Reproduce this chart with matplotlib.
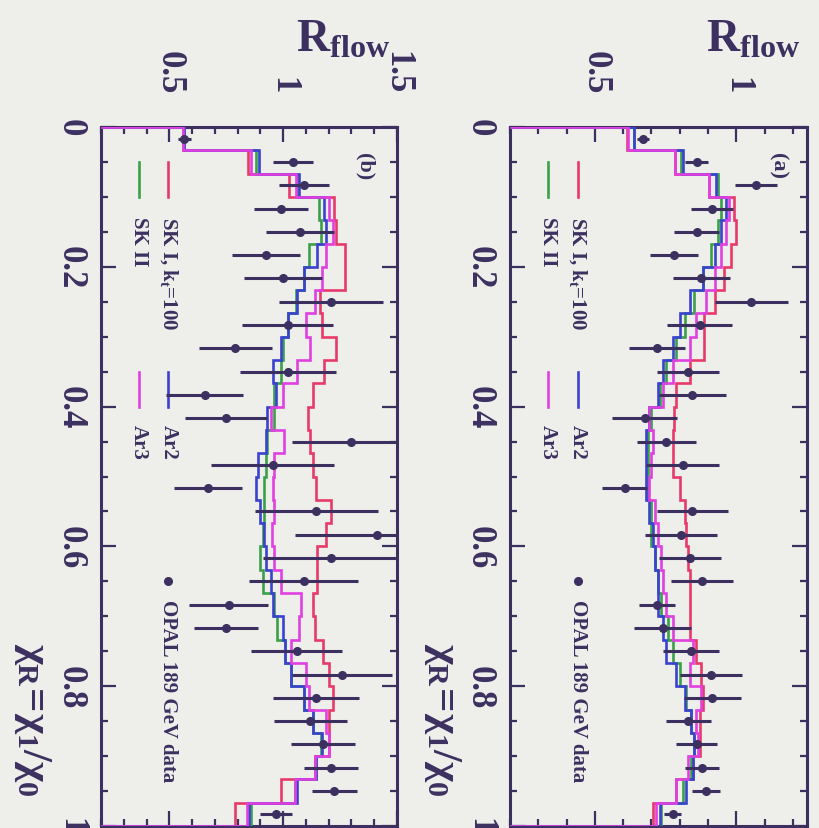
import numpy as np
import matplotlib
matplotlib.use("Agg")
import matplotlib.pyplot as plt
from matplotlib.transforms import blended_transform_factory

plt.rcParams['font.family'] = ['Liberation Serif', 'DejaVu Serif']
plt.rcParams['font.weight'] = 'bold'
plt.rcParams['mathtext.fontset'] = 'custom'
plt.rcParams['mathtext.rm'] = 'Liberation Serif:bold'
plt.rcParams['mathtext.it'] = 'Liberation Serif:bold'
plt.rcParams['mathtext.bf'] = 'Liberation Serif:bold'

# 30 bins in chi_R = chi_1/chi_0
edges = np.linspace(0, 1, 31)
centers = 0.5 * (edges[:-1] + edges[1:])

# ---- panel (a)
a_data = [0.67, 0.86, 1.07, 0.915, 0.86, 0.78, 0.877, 1.053, 0.87, 0.72,
          0.83, 0.845, 0.676, 0.753, 0.81, 0.606, 0.845, 0.805, 0.835, 0.88,
          0.72, 0.74, 0.84, 0.91, 0.915, 0.83, 0.86, 0.88, 0.893, 0.775]
a_err = [0.02, 0.04, 0.075, 0.075, 0.08, 0.085, 0.1, 0.13, 0.115, 0.1,
         0.11, 0.12, 0.115, 0.105, 0.13, 0.08, 0.127, 0.127, 0.11, 0.11,
         0.065, 0.1, 0.1, 0.11, 0.1, 0.08, 0.073, 0.06, 0.05, 0.03]
a_sk1 = [0.615, 0.782, 0.905, 0.993, 0.999, 0.981, 0.958, 0.923, 0.887, 0.887,
         0.835, 0.787, 0.781, 0.776, 0.776, 0.8, 0.817, 0.823, 0.829, 0.835,
         0.835, 0.835, 0.858, 0.876, 0.882, 0.87, 0.87, 0.846, 0.787, 0.705]
a_sk2 = [0.64, 0.805, 0.935, 0.947, 0.935, 0.911, 0.882, 0.852, 0.817, 0.787,
         0.752, 0.729, 0.699, 0.687, 0.687, 0.687, 0.699, 0.699, 0.711, 0.723,
         0.735, 0.758, 0.776, 0.8, 0.823, 0.84, 0.852, 0.84, 0.811, 0.735]
a_ar2 = [0.64, 0.81, 0.93, 0.964, 0.947, 0.923, 0.882, 0.835, 0.8, 0.776,
         0.74, 0.723, 0.693, 0.681, 0.681, 0.681, 0.693, 0.705, 0.711, 0.723,
         0.723, 0.74, 0.752, 0.787, 0.817, 0.84, 0.852, 0.846, 0.823, 0.729]
a_ar3 = [0.616, 0.782, 0.905, 0.975, 0.964, 0.947, 0.923, 0.893, 0.858, 0.835,
         0.776, 0.74, 0.693, 0.705, 0.699, 0.693, 0.711, 0.723, 0.735, 0.74,
         0.752, 0.776, 0.846, 0.835, 0.876, 0.858, 0.864, 0.829, 0.787, 0.717]

# ---- panel (b)
b_data = [0.566, 1.044, 1.09, 0.99, 1.075, 0.925, 1.0, 1.21, 1.02, 0.79,
          1.02, 0.655, 0.75, 1.30, 0.955, 0.67, 1.145, 1.41, 1.21, 1.09,
          0.76, 0.75, 1.06, 1.26, 1.145, 1.12, 1.175, 1.21, 1.225, 0.97]
b_err = [0.03, 0.088, 0.11, 0.12, 0.15, 0.15, 0.17, 0.23, 0.2, 0.16,
         0.21, 0.17, 0.18, 0.26, 0.27, 0.15, 0.27, 0.36, 0.3, 0.24,
         0.175, 0.14, 0.2, 0.22, 0.19, 0.16, 0.14, 0.12, 0.1, 0.07]
b_sk1 = [0.56, 0.846, 1.027, 1.224, 1.23, 1.27, 1.27, 1.16, 1.17, 1.23,
         1.18, 1.13, 1.11, 1.12, 1.13, 1.145, 1.21, 1.19, 1.15, 1.15,
         1.13, 1.14, 1.175, 1.20, 1.22, 1.20, 1.20, 1.14, 0.99, 0.79]
b_sk2 = [0.565, 0.88, 1.06, 1.158, 1.165, 1.115, 1.09, 1.055, 1.02, 1.0,
         0.99, 0.96, 0.96, 0.93, 0.925, 0.915, 0.915, 0.91, 0.90, 0.91,
         0.96, 0.975, 1.01, 1.035, 1.09, 1.13, 1.165, 1.145, 1.05, 0.86]
b_ar2 = [0.565, 0.895, 1.07, 1.18, 1.19, 1.15, 1.09, 1.06, 1.02, 0.99,
         0.955, 0.97, 0.93, 0.925, 0.89, 0.88, 0.90, 0.915, 0.925, 0.945,
         0.955, 1.0, 1.01, 1.035, 1.09, 1.13, 1.17, 1.145, 1.06, 0.85]
b_ar3 = [0.56, 0.86, 1.057, 1.20, 1.22, 1.19, 1.17, 1.14, 1.10, 1.12,
         1.06, 1.0, 0.945, 1.005, 0.96, 0.955, 0.96, 0.95, 0.96, 0.99,
         1.08, 1.07, 1.035, 1.10, 1.115, 1.19, 1.20, 1.14, 1.05, 0.84]

dark = '#3c3060'
bg = '#eeeeea'
c_sk1 = '#e83a6a'
c_sk2 = '#3aa04a'
c_ar2 = '#3a42d0'
c_ar3 = '#e040e0'

W, H = 819, 829
fig = plt.figure(figsize=(W / 100, H / 100), dpi=100, facecolor=bg)


def px(x, y):
    return x / W, 1 - y / H


def panel(left, right, xmax, rticks, data, err, sk1, sk2, ar2, ar3, tag, tagx):
    ax = fig.add_axes([left / W, (H - 827) / H, (right - left) / W, 699 / H])
    ax.set_facecolor(bg)
    for h, c in [(sk1, c_sk1), (sk2, c_sk2), (ar2, c_ar2), (ar3, c_ar3)]:
        ax.stairs(h, edges, orientation='horizontal', baseline=0.2,
                  color=c, lw=1.9, zorder=3)
    ax.errorbar(data, centers, xerr=err, fmt='o', ms=5.5, color=dark,
                elinewidth=2.2, capsize=0, zorder=5)
    ax.set_xlim(0.2, xmax)
    ax.set_ylim(1.0, 0.0)

    ax.xaxis.tick_top()
    ax.set_xticks(rticks)
    ax.set_xticklabels([('%g' % t) for t in rticks])
    ax.set_xticks(np.arange(0.2, xmax + 0.001, 0.1), minor=True)
    ax.set_yticks([0, 0.2, 0.4, 0.6, 0.8, 1.0])
    ax.set_yticklabels(['0', '0.2', '0.4', '0.6', '0.8', '1'])
    ax.set_yticks(np.arange(0, 1.001, 0.05), minor=True)
    ax.tick_params(which='both', direction='in', top=True, bottom=True,
                   left=True, right=True, color=dark, width=1.6,
                   labelcolor=dark, labelsize=25)
    ax.tick_params(which='major', length=11)
    ax.tick_params(which='minor', length=5)
    ax.tick_params(axis='x', labeltop=True, labelbottom=False,
                   labelrotation=-90, pad=24)
    ax.tick_params(axis='y', labelrotation=-90, pad=10)
    for lab in ax.get_xticklabels():
        lab.set_ha('center')
        lab.set_va('bottom')
    for lab in ax.get_yticklabels():
        lab.set_ha('right')
        lab.set_va('center')
    for s in ax.spines.values():
        s.set_color(dark)
        s.set_linewidth(2.2)

    # legend drawn as in the original, rotated
    tr = blended_transform_factory(ax.transAxes, ax.transData)
    cx1, cx2 = 0.228, 0.128
    ax.plot([cx1, cx1], [0.05, 0.10], color=c_sk1, lw=1.9, transform=tr)
    ax.plot([cx2, cx2], [0.05, 0.10], color=c_sk2, lw=1.9, transform=tr)
    ax.plot([cx1, cx1], [0.35, 0.40], color=c_ar2, lw=1.9, transform=tr)
    ax.plot([cx2, cx2], [0.35, 0.40], color=c_ar3, lw=1.9, transform=tr)
    ax.plot([cx1], [0.65], 'o', ms=5.5, color=dark, transform=tr)
    kw = dict(transform=tr, rotation=-90, ha='center', va='top',
              fontsize=15, color=dark)
    ax.text(cx1, 0.127, 'SK I, k$_t$=100', **kw)
    ax.text(cx2, 0.127, 'SK II', **kw)
    ax.text(cx1, 0.425, 'Ar2', **kw)
    ax.text(cx2, 0.425, 'Ar3', **kw)
    ax.text(cx1, 0.675, 'OPAL 189 GeV data', **kw)
    ax.text(tagx, 0.055, tag, transform=tr, rotation=-90, ha='center',
            va='center', fontsize=16, color=dark)
    return ax


ax_b = panel(101, 397, 1.5, [0.5, 1.0, 1.5], b_data, b_err,
             b_sk1, b_sk2, b_ar2, b_ar3, '(b)', 0.89)
ax_a = panel(510, 807, 1.25, [0.5, 1.0], a_data, a_err,
             a_sk1, a_sk2, a_ar2, a_ar3, '(a)', 0.9)

# axis titles
for xr, xc in [(296, 32), (706, 443)]:
    fig.text(*px(xr, 52), r'$\mathbf{R}_{\mathbf{flow}}$', fontsize=33,
             color=dark, ha='left', va='baseline')
    fig.text(*px(xc, 643), r'$\chi_R\!=\!\chi_1/\chi_0$', fontsize=31,
             color=dark, rotation=-90, ha='center', va='top')

fig.savefig('out.png', dpi=100, facecolor=bg)
